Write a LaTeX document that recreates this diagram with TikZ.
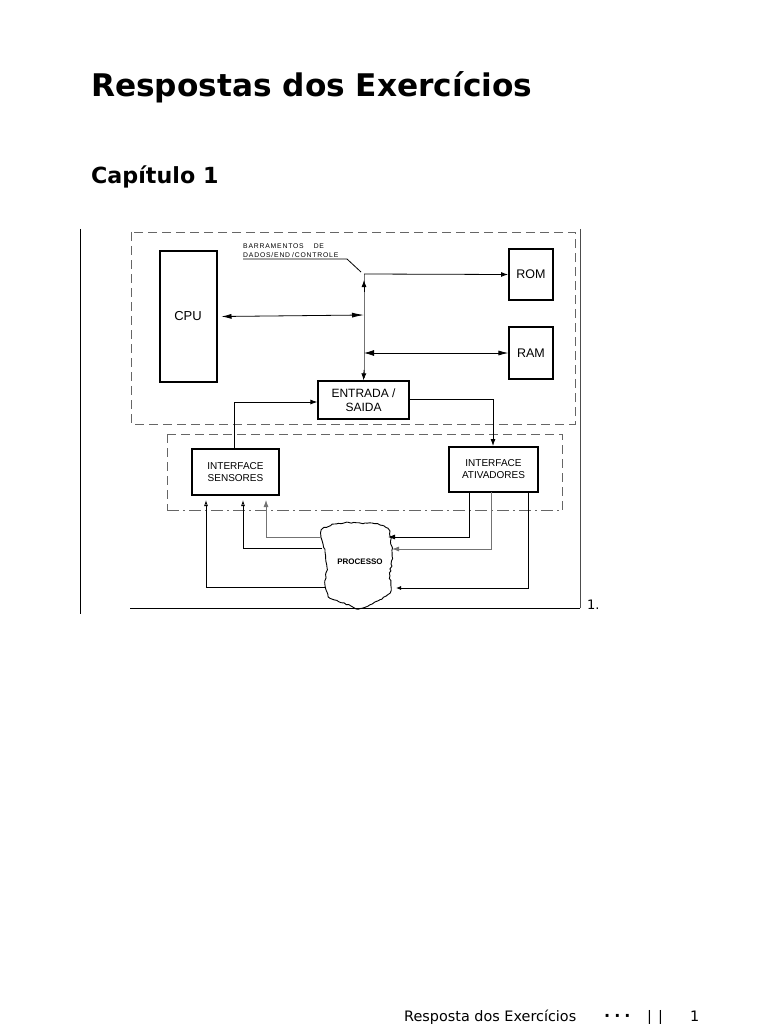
\documentclass[tikz,border=0pt]{standalone}
\usepackage{fontspec}
\setmainfont{DejaVu Sans}
\newfontfamily\arialf{Liberation Sans}
\newfontfamily\arialw[LetterSpace=12]{Liberation Sans}
\usetikzlibrary{arrows.meta,decorations.pathmorphing}
\begin{document}
\begin{tikzpicture}[x=1pt,y=-1pt,
  thinln/.style={line width=0.8pt},
  grayln/.style={line width=0.8pt, draw=black!55},
  thickbox/.style={draw, line width=2pt, inner sep=0pt, font=\arialf\fontsize{10}{12}\selectfont, align=center},
  midbox/.style={draw, line width=1.2pt, inner sep=0pt, font=\arialf\fontsize{12.5}{13}\selectfont, align=center},
  dashbox/.style={draw=black!60, line width=0.8pt, dash pattern=on 9pt off 5pt},
  tip/.style={-{Latex[length=7pt,width=5pt]}},
  tipopen/.style={-{Latex[open,length=6pt,width=4pt]}},
  lab/.style={font=\arialw\fontsize{6.8}{8}\selectfont, inner sep=0pt, anchor=base west}]
\useasboundingbox (0,0) rectangle (768,1024);

% titles
\node[anchor=base west, inner sep=0pt, font=\bfseries\fontsize{31.2}{36}\selectfont] (title) at (91,97) {Respostas dos Exercícios};
\node[anchor=base west, inner sep=0pt, font=\bfseries\fontsize{22.2}{26}\selectfont] (chap) at (91,184) {Capítulo 1};

% frame lines
\draw[line width=1pt] (80,229) -- (80,614);
\draw[line width=0.8pt, draw=black!70] (580,229) -- (580,608);
\draw[line width=1pt] (130,608) -- (580,608);
\node[anchor=base west, inner sep=0pt, font=\fontsize{13}{15}\selectfont] (num) at (587,609) {1.};

% dashed groups
\draw[dashbox] (131,232) rectangle (575,424);
\draw[dashbox] (167,434) -- (562,434) -- (562,510);
\draw[dashbox] (167,434) -- (167,510);
\draw[draw=black!60, line width=0.8pt, dash pattern=on 12pt off 4pt on 2pt off 4pt] (167,510) -- (562,510);

% boxes
\node[thickbox, font=\arialf\fontsize{13}{14}\selectfont, minimum width=57pt, minimum height=131pt] (cpu) at (188,316.5) {CPU};
\node[thickbox, font=\arialf\fontsize{12.5}{14}\selectfont, minimum width=44pt, minimum height=51pt] (rom) at (531,274.5) {ROM};
\node[midbox, minimum width=44pt, minimum height=52pt] (ram) at (531,353) {RAM};
\node[midbox, font=\arialf\fontsize{12}{14}\selectfont, minimum width=91pt, minimum height=38pt, line width=1.3pt] (es) at (363.5,400) {ENTRADA /\\SAIDA\hspace{12pt}};
\node[thickbox, minimum width=87pt, minimum height=46pt] (sens) at (235.5,472) {INTERFACE\\SENSORES};
\node[thickbox, minimum width=89pt, minimum height=45pt] (ativ) at (493.5,469.5) {INTERFACE\\ATIVADORES};

% bus label
\node[lab] (bl1) at (243,248) {BARRAMENTOS\hspace{10pt}DE};
\node[lab] (bl2) at (243,257) {DADOS/END\hspace{2pt}/CONTROLE};
\coordinate (ul1) at (243,259);
\coordinate (ul2) at (347,259);
\coordinate (ul3) at (361,272);
\draw[thinln] (ul1) -- (ul2) -- (ul3);

% bus
\coordinate (bustop) at (364,274);
\coordinate (buscpu) at (364,315);
\coordinate (busram) at (364,353);
\draw[grayln] (bustop) -- (364,378);
\draw[-{Latex[length=7pt,width=5pt]}, line width=0.8pt] (364,292) -- (364,280);
\draw[tip, thinln] (364,370) -- (es.north);
\draw[tip, thinln] (bustop) -- (rom.west);
\draw[{Latex[length=10pt,width=5pt]}-{Latex[length=12pt,width=5pt]}, thinln] (cpu.east) ++(4,0) -- (buscpu) ;
\draw[{Latex[length=10pt,width=6pt]}-{Latex[length=10pt,width=5pt]}, thinln] (busram) -- (ram.west);

% ES connections
\coordinate (esl) at (234,402);
\coordinate (esr) at (493,399);
\draw[tip, thinln] (sens.north -| esl) -- (esl) -- (es.west |- esl);
\draw[tip, thinln] (es.east |- esr) -- (esr) -- (ativ.north -| esr);

% process cloud
\pgfmathsetseed{7}
\draw[line width=0.9pt, decorate, decoration={random steps, segment length=2.5pt, amplitude=0.8pt}]
  plot[smooth cycle, tension=0.6] coordinates {(322,530) (336,524) (360,523) (384,526) (390,536) (392,556) (390,576) (391,588) (386,596) (372,604) (358,609) (344,603) (330,598) (325,585) (327,568) (325,552) (322,540)};
\node[font=\arialf\bfseries\fontsize{8}{9}\selectfont, inner sep=0pt] (proc) at (360,562) {PROCESSO};

% sensor returns
\coordinate (s1) at (206,587);
\coordinate (s2) at (243,548);
\coordinate (s3) at (266,537);
\draw[tipopen, thinln] (326,587) -- (s1) -- (206,500);
\draw[tipopen, thinln] (322,548) -- (s2) -- (243,500);
\draw[tip, grayln] (322,537) -- (s3) -- (266,500);

% actuator outputs
\coordinate (a1) at (469,537);
\coordinate (a2) at (491,549);
\coordinate (a3) at (528,588);
\draw[tip, thinln] (469,492) -- (a1) -- (388,537);
\draw[tip, grayln] (491,492) -- (a2) -- (392,549);
\draw[-{Latex[length=5pt,width=4pt]}, thinln] (528,492) -- (a3) -- (396,588);

% footer
\node[anchor=base west, inner sep=0pt, font=\fontsize{14.4}{16}\selectfont] (foot) at (404,1021) {Resposta dos Exercícios};
\node[anchor=base west, inner sep=0pt, font=\bfseries\fontsize{16}{16}\selectfont] (dots) at (604,1021) {·\hspace{4pt}·\hspace{4pt}·};
\node[anchor=base west, inner sep=0pt, font=\fontsize{14.4}{16}\selectfont] (bars) at (647,1021) {|\hspace{6pt}|};
\node[anchor=base west, inner sep=0pt, font=\fontsize{14.4}{16}\selectfont] (pg) at (690,1021) {1};
\end{tikzpicture}
\end{document}
